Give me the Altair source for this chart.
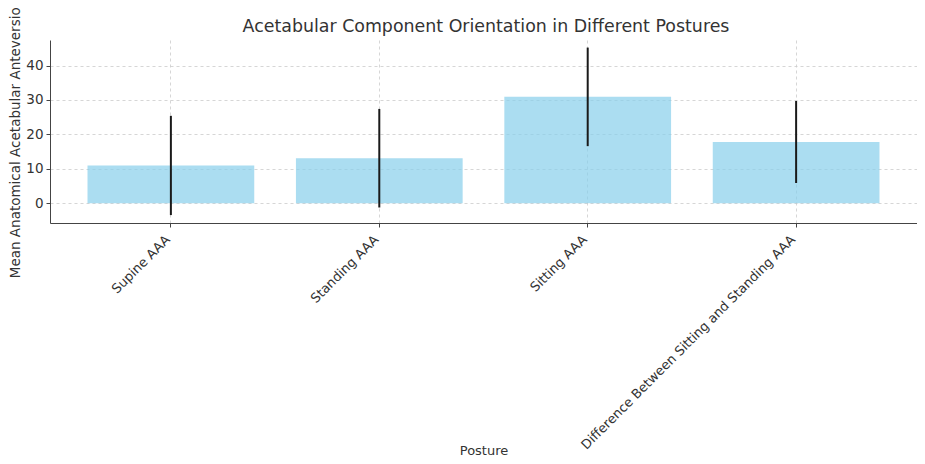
import altair as alt
import pandas as pd

postures = ["Supine AAA", "Standing AAA", "Sitting AAA",
            "Difference Between Sitting and Standing AAA"]
means = [11.0, 13.1, 30.9, 17.8]
sds = [14.4, 14.3, 14.3, 11.9]
chart_title = ["Acetabular Component Orientation in Different Postures"]

df = pd.DataFrame({"Posture": postures, "mean": means, "sd": sds})
df["lo"] = df["mean"] - df["sd"]
df["hi"] = df["mean"] + df["sd"]

FONT = "DejaVu Sans"
TXT = "#333333"
W, H = 867, 183
FS = 13

xenc = alt.X("Posture:N", sort=postures, title="Posture",
             scale=alt.Scale(paddingInner=0.2, paddingOuter=0.18),
             axis=alt.Axis(labelAngle=-45, labelAlign="right", labelBaseline="alphabetic",
                           labelFontSize=FS, labelFont=FONT, labelColor=TXT, labelLimit=600,
                           titleFont=FONT, titleFontSize=13, titleColor=TXT,
                           titleFontWeight="normal", titleY=231, titleBaseline="alphabetic",
                           grid=True, gridDash=[3, 3], gridColor="#cccccc", gridOpacity=0.8,
                           domainColor="#444444", tickColor="#444444", tickSize=4,
                           labelPadding=13))

yscale = alt.Scale(domain=[-5.7, 47.4], nice=False, zero=False)
yaxis = alt.Axis(values=[0, 10, 20, 30, 40], labelFontSize=13.5, labelFont=FONT,
                 labelColor=TXT, titleFont=FONT, titleFontSize=13.5, titleColor=TXT,
                 titleFontWeight="normal", titlePadding=3, titleY=98,
                 grid=True, gridDash=[3, 3], gridColor="#cccccc", gridOpacity=0.8,
                 domainColor="#444444", tickColor="#444444", tickSize=4, labelPadding=3)

bars = alt.Chart(df).mark_bar(color="#87ceeb", opacity=0.7).encode(
    x=xenc,
    y=alt.Y("mean:Q", scale=yscale, axis=yaxis,
            title="Mean Anatomical Acetabular Anteversion"),
)

err = alt.Chart(df).mark_rule(color="#1a1a1a", strokeWidth=2).encode(
    x=alt.X("Posture:N", sort=postures),
    y=alt.Y("lo:Q"),
    y2="hi:Q",
)

title = alt.Chart(pd.DataFrame({"t": chart_title})).mark_text(
    font=FONT, fontSize=17.4, color=TXT, baseline="middle", align="center"
).encode(text="t:N", x=alt.value(436), y=alt.value(-13))

chart = (bars + err + title).properties(
    width=W, height=H,
    autosize=alt.AutoSizeParams(type="none"),
    padding={"left": 42, "top": 32, "right": 0, "bottom": 233},
).configure_view(stroke=None)

chart.save("out.html", embed_options={"renderer": "svg", "actions": False})
